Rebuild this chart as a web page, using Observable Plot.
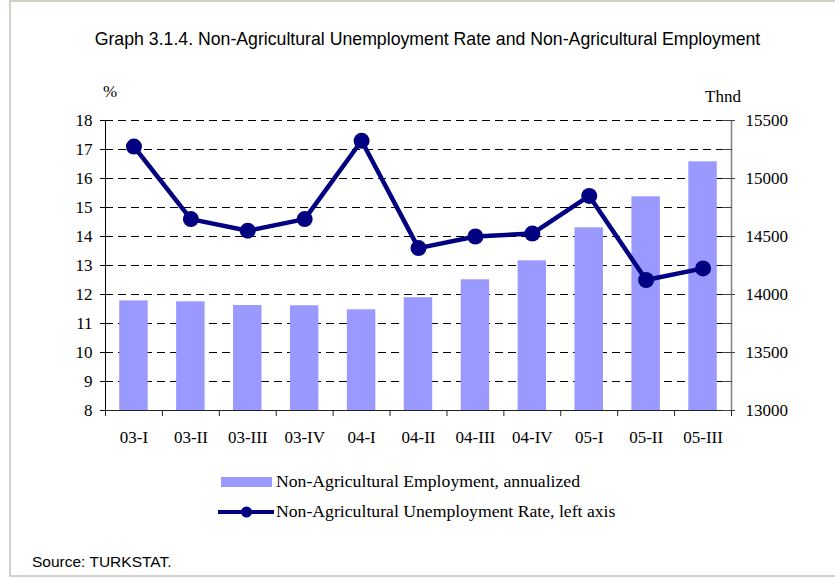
<!DOCTYPE html>
<html>
<head>
<meta charset="utf-8">
<script src="https://cdn.jsdelivr.net/npm/d3@7"></script>
<script src="https://cdn.jsdelivr.net/npm/@observablehq/plot@0.6"></script>
<style>
  html, body { margin: 0; padding: 0; background: #fff; }
  #wrap { position: relative; width: 835px; height: 578px; overflow: hidden; background: #fff; }
  #border { position: absolute; left: 9px; top: 0; width: 840px; height: 577px; box-sizing: border-box;
            border-left: 2px solid #d4d0c8; border-top: 2px solid #d4d0c8; border-bottom: 2px solid #d4d0c8; }
  #chart { position: absolute; left: 0; top: 0; }
  #chart text { font-family: "Liberation Serif", "Times New Roman", serif !important; font-variant: normal !important; }
  #overlay { position: absolute; left: 0; top: 0; }
  .sans { font-family: "Liberation Sans Narrow", "Arial Narrow", "Liberation Sans", Arial, sans-serif; fill: #000; }
  .serif { font-family: "Liberation Serif", "Times New Roman", serif; fill: #000; }
</style>
</head>
<body>
<div id="wrap">
  <div id="border"></div>
  <div id="chart"></div>
  <svg id="overlay" width="835" height="578"></svg>
</div>
<script>
// ---- data ----
const quarters = ["03-I", "03-II", "03-III", "03-IV", "04-I", "04-II", "04-III", "04-IV", "05-I", "05-II", "05-III"];
const employment = [13945, 13937, 13905, 13903, 13868, 13972, 14127, 14290, 14575, 14842, 15144]; // thousand, right axis
const unemployment = [17.1, 14.6, 14.2, 14.6, 17.3, 13.6, 14.0, 14.1, 15.4, 12.5, 12.9]; // %, left axis
const leftTicks = [8, 9, 10, 11, 12, 13, 14, 15, 16, 17, 18];
const rightTicks = [13000, 13500, 14000, 14500, 15000, 15500];
const rightMinorTicks = [13000, 13250, 13500, 13750, 14000, 14250, 14500, 14750, 15000, 15250, 15500];

const titleText = "Graph 3.1.4. Non-Agricultural Unemployment Rate and Non-Agricultural Employment";
const leftUnit = "%";
const rightUnit = "Thnd";
const legendBar = "Non-Agricultural Employment, annualized";
const legendLine = "Non-Agricultural Unemployment Rate, left axis";
const sourceText = "Source: TURKSTAT.";

// ---- scales mapping (right axis onto left domain) ----
const lMin = leftTicks[0], lMax = leftTicks[leftTicks.length - 1];
const rMin = rightTicks[0], rMax = rightTicks[rightTicks.length - 1];
const toLeft = v => lMin + (v - rMin) / (rMax - rMin) * (lMax - lMin);
const fromLeft = y => rMin + (y - lMin) / (lMax - lMin) * (rMax - rMin);

const data = quarters.map((q, i) => ({ i, q, emp: employment[i], rate: unemployment[i] }));
const boundaries = d3.range(quarters.length + 1).map(k => k - 0.5);
const xDomain = [-0.5, quarters.length - 0.5];

const serif = '"Liberation Serif", "Times New Roman", serif';
const navy = "#000080";
const barFill = "#9999ff";

const chart = Plot.plot({
  width: 835,
  height: 578,
  marginLeft: 105,
  marginRight: 104,
  marginTop: 120,
  marginBottom: 168,
  x: { type: "linear", domain: xDomain, axis: null },
  y: { domain: [lMin, lMax], axis: null },
  style: { fontFamily: serif, fontSize: "17px", color: "#000", background: "transparent", overflow: "visible" },
  marks: [
    Plot.ruleY(leftTicks.slice(1), { stroke: "#000", strokeWidth: 1, strokeDasharray: "8,5" }),
    Plot.rectY(data, { x1: d => d.i - 0.25, x2: d => d.i + 0.25, y1: () => lMin, y2: d => toLeft(d.emp), fill: barFill }),
    Plot.ruleY([lMin], { stroke: "#222", strokeWidth: 1 }),
    Plot.ruleX([xDomain[0]], { stroke: "#000", strokeWidth: 1 }),
    Plot.ruleX([xDomain[1]], { stroke: "#808080", strokeWidth: 1.5 }),
    // left axis
    Plot.axisY(leftTicks, { anchor: "left", tickSize: 5, tickPadding: 8, label: null, fontSize: 17, fontFamily: serif }),
    // right axis: labels with short outer ticks
    Plot.axisY(rightTicks.map(toLeft), { anchor: "right", tickSize: 3, tickPadding: 11, label: null, fontSize: 17, fontFamily: serif,
      tickFormat: d => String(Math.round(fromLeft(d))), stroke: "#444" }),
    // right axis inner ticks
    Plot.axisY(rightMinorTicks.map(toLeft), { anchor: "right", tickSize: -10, tickFormat: () => "", label: null, stroke: "#444" }),
    // x axis boundary ticks
    Plot.axisX(boundaries, { tickSize: 6, tickFormat: () => "", label: null, stroke: "#222" }),
    // x axis labels
    Plot.axisX(data.map(d => d.i), { tickSize: 0, tickPadding: 20, tickFormat: i => quarters[i], label: null, fontSize: 17, fontFamily: serif }),
    // unemployment line
    Plot.line(data, { x: "i", y: "rate", stroke: navy, strokeWidth: 4.5 }),
    Plot.dot(data, { x: "i", y: "rate", r: 8, fill: navy, stroke: "none" })
  ]
});
document.getElementById("chart").appendChild(chart);

// ---- titles, units, legend, source ----
const ov = d3.select("#overlay");
ov.append("text").attr("class", "sans").attr("x", 427.5).attr("y", 45).attr("text-anchor", "middle")
  .style("font-size", "17.7px").text(titleText);
ov.append("text").attr("class", "serif").attr("x", 103).attr("y", 97).style("font-size", "17px").text(leftUnit);
ov.append("text").attr("class", "serif").attr("x", 705).attr("y", 101.5).style("font-size", "17px").text(rightUnit);

// legend
ov.append("rect").attr("x", 221).attr("y", 477).attr("width", 51).attr("height", 10).attr("fill", barFill);
ov.append("text").attr("class", "serif").attr("x", 276).attr("y", 487).style("font-size", "17.7px").text(legendBar);
ov.append("line").attr("x1", 218).attr("x2", 274).attr("y1", 512).attr("y2", 512).attr("stroke", navy).attr("stroke-width", 4);
ov.append("circle").attr("cx", 246.5).attr("cy", 512).attr("r", 5.5).attr("fill", navy);
ov.append("text").attr("class", "serif").attr("x", 276).attr("y", 517).style("font-size", "17.7px").text(legendLine);

ov.append("text").attr("class", "sans").attr("x", 32).attr("y", 567)
  .style("font-size", "15.5px").text(sourceText);
</script>
</body>
</html>
